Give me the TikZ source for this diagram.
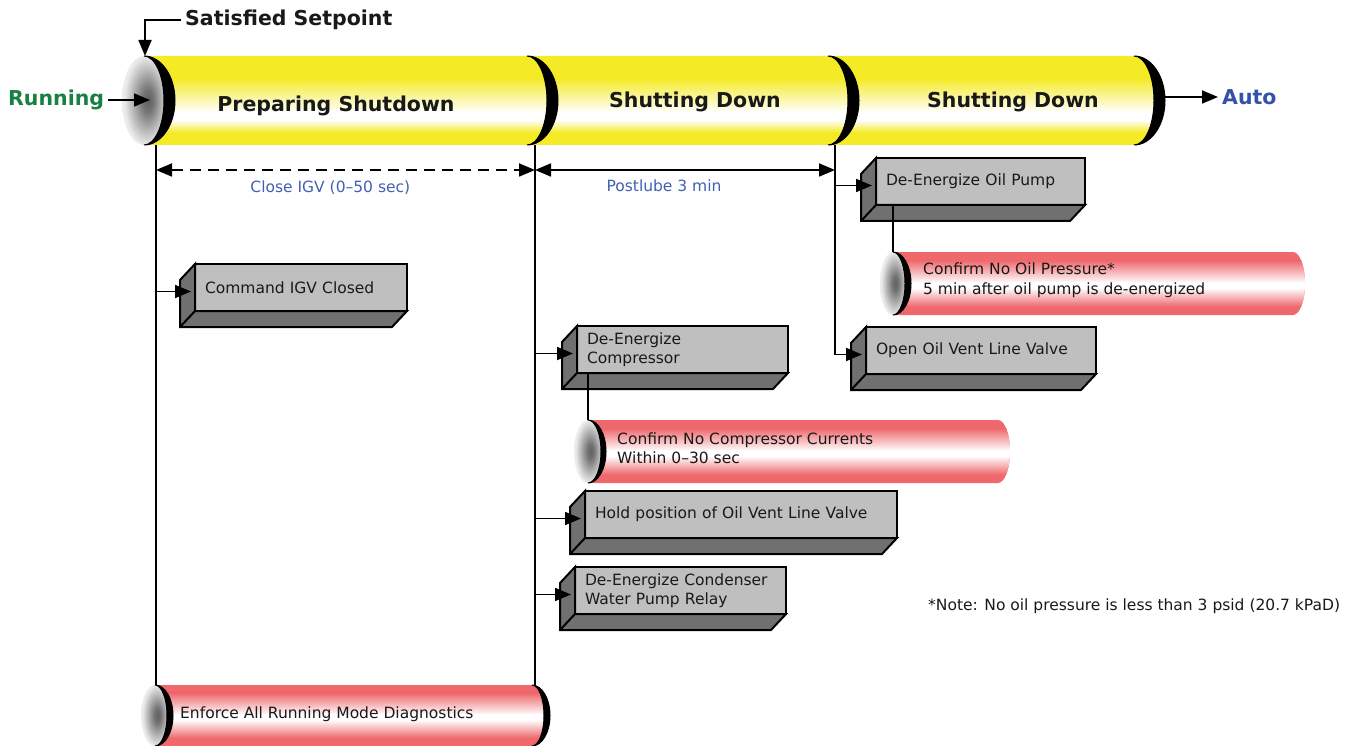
\documentclass[tikz,border=0pt]{standalone}
\usepackage{fontspec}
\setmainfont{DejaVu Sans}
\usetikzlibrary{arrows.meta, calc, positioning}

\definecolor{pipeyellow}{RGB}{244,234,38}
\definecolor{pipered}{RGB}{238,104,108}
\definecolor{facegrey}{RGB}{191,191,191}
\definecolor{sidegrey}{RGB}{112,112,112}
\definecolor{rungreen}{RGB}{24,128,66}
\definecolor{autoblue}{RGB}{52,82,168}
\definecolor{labelblue}{RGB}{64,96,180}

\pgfdeclareradialshading{pipeend}{\pgfpoint{5bp}{0bp}}{color(0bp)=(black!62); color(6bp)=(black!55); color(25bp)=(black!8); color(50bp)=(white)}

\tikzset{
  pipefill/.style n args={5}{fill=#1, path picture={
      \path (path picture bounding box.north west) coordinate (nw) (path picture bounding box.south west) coordinate (sw)
            (path picture bounding box.north east) coordinate (ne) (path picture bounding box.south east) coordinate (se);
      \shade[top color=#1, bottom color=white] ($(nw)!#2!(sw)$) rectangle ($(ne)!#3!(se)$);
      \fill[white] ($(nw)!#3!(sw)+(0,-0.5)$) rectangle ($(ne)!#4!(se)+(0,0.5)$);
      \shade[top color=white, bottom color=#1] ($(nw)!#4!(sw)$) rectangle ($(ne)!#5!(se)$);
    }},
  yellowpipe/.style={pipefill={pipeyellow}{0.25}{0.63}{0.72}{0.86}},
  redpipe/.style={pipefill={pipered}{0.13}{0.49}{0.57}{0.87}},
  stepbox/.style={rectangle, draw=black, line width=2pt, fill=facegrey, anchor=north west, minimum height=47, inner xsep=10pt, inner ysep=2pt, align=left, outer sep=0pt},
  slab/.style={fill=sidegrey, draw=black, line width=2pt, line join=miter},
  joint/.style={fill=black, draw=black, line width=1pt},
  titletext/.style={font=\fontsize{20.5}{24}\selectfont\bfseries, inner sep=4pt},
  pipetext/.style={anchor=west, align=left, inner sep=0pt},
  dimlabel/.style={text=labelblue, inner sep=0pt},
  link/.style={line width=1.8pt},
  arrow/.style={line width=1.8pt, -{Triangle[length=16pt, width=13pt]}},
  dimarrow/.style={line width=1.8pt, {Triangle[length=16pt, width=13pt]}-{Triangle[length=16pt, width=13pt]}}
}

\begin{document}
\begin{tikzpicture}[x=1pt, y=-1pt,
    every node/.style={font=\fontsize{15.5}{19.5}\selectfont, text=black!90}
  ]
  \useasboundingbox (0,0) rectangle (1365,746);

  % --- Main pipe ---
  \path[yellowpipe] (144,56) -- (1134,56) arc[start angle=-90, end angle=90, x radius=30, y radius=44.5] -- (144,145) -- cycle;
  \shade[shading=pipeend] (144,100.5) ellipse[x radius=22, y radius=44.5];
  \foreach \j in {144,527,828,1134}
    \filldraw[joint] (\j,56) arc[start angle=-90, end angle=90, x radius=31, y radius=44.5] arc[start angle=90, end angle=-90, x radius=20, y radius=44.5] -- cycle;

  % --- Red pipes ---
  \path[redpipe] (893,252) -- (1293,252) arc[start angle=-90, end angle=90, x radius=12, y radius=31.5] -- (893,315) -- cycle;
  \shade[shading=pipeend] (893,283.5) ellipse[x radius=13, y radius=31.5];
  \filldraw[joint] (893,252) arc[start angle=-90, end angle=90, x radius=18, y radius=31.5] arc[start angle=90, end angle=-90, x radius=12, y radius=31.5] -- cycle;

  \path[redpipe] (588,420) -- (998,420) arc[start angle=-90, end angle=90, x radius=12, y radius=31.5] -- (588,483) -- cycle;
  \shade[shading=pipeend] (588,451.5) ellipse[x radius=14, y radius=31.5];
  \filldraw[joint] (588,420) arc[start angle=-90, end angle=90, x radius=18, y radius=31.5] arc[start angle=90, end angle=-90, x radius=13, y radius=31.5] -- cycle;

  \path[redpipe] (155,685) -- (532,685) arc[start angle=-90, end angle=90, x radius=18, y radius=30.5] -- (155,746) -- cycle;
  \shade[shading=pipeend] (155,715.5) ellipse[x radius=14, y radius=30.5];
  \foreach \j in {155,532}
    \filldraw[joint] (\j,685) arc[start angle=-90, end angle=90, x radius=18, y radius=30.5] arc[start angle=90, end angle=-90, x radius=12, y radius=30.5] -- cycle;

  % --- Coordinates ---
  \coordinate (pipetop) at (145,56);
  \coordinate (pipeface) at (150,99);
  \coordinate (pipeend) at (1165,97);
  \coordinate (tap0) at (156,145);
  \coordinate (tap1) at (535,145);
  \coordinate (tap2) at (835,145);
  \coordinate (enftop) at (0,685);
  \coordinate (oiltop) at (893,252);
  \coordinate (currtop) at (588,420);

  % --- Boxes ---
  \node (igv) [stepbox, text width=192] at (195,264) {Command IGV Closed};
  \node (comp) [stepbox, text width=191] at (577,326) {De-Energize\\Compressor};
  \node (hold) [stepbox, text width=292] at (585,491) {Hold position of Oil Vent Line Valve};
  \node (cond) [stepbox, text width=191] at (575,567) {De-Energize Condenser\\Water Pump Relay};
  \node (pump) [stepbox, text width=189] at (876,158) {De-Energize Oil Pump};
  \node (vent) [stepbox, text width=210] at (866,327) {Open Oil Vent Line Valve};
  \foreach \b in {igv,comp,hold,cond,pump,vent} {
    \filldraw[slab] (\b.north west) -- ++(-15,16) -- ($(\b.south west)+(-15,16)$) -- ($(\b.south east)+(-15,16)$) -- (\b.south east) -- (\b.south west) -- cycle;
    \draw[slab] (\b.south west) -- ++(-15,16);
  }

  % --- Texts ---
  \node[titletext] (prep) at (336,106) {Preparing Shutdown};
  \node[titletext] (shutA) at (695,102) {Shutting Down};
  \node[titletext] (shutB) at (1013,102) {Shutting Down};
  \node[titletext, anchor=west] (setp) at (181,20) {Satisfied Setpoint};
  \node[titletext, anchor=west, text=rungreen] (running) at (4,100) {Running};
  \node[titletext, anchor=west, text=autoblue] (auto) at (1218,97) {Auto};
  \node[pipetext] (oilp) at (923,280) {Confirm No Oil Pressure*\\5 min after oil pump is de-energized};
  \node[pipetext] (curr) at (617,448) {Confirm No Compressor Currents\\Within 0–30 sec};
  \node[pipetext] (enforce) at (180,714) {Enforce All Running Mode Diagnostics};
  \node[anchor=west, inner sep=0pt] (note) at (928,606) {*Note: No oil pressure is less than 3 psid (20.7 kPaD)};

  % --- Connections ---
  \draw[arrow] (setp.west) -| (pipetop);
  \draw[arrow] (running.east) -- (running.east -| pipeface);
  \draw[arrow] (pipeend) -- (auto.west);

  \draw[link] (tap0) -- (tap0 |- enftop);
  \draw[link] (tap1) -- (tap1 |- enftop);
  \draw[dimarrow, dash pattern=on 11pt off 7pt] (tap0 |- 0,170) -- node[dimlabel, pos=0.46, below=10pt] {Close IGV (0–50 sec)} (tap1 |- 0,170);
  \draw[dimarrow] (tap1 |- 0,170) -- node[dimlabel, pos=0.43, below=9pt] {Postlube 3 min} (tap2 |- 0,170);

  \foreach \b/\t in {igv/tap0, comp/tap1, hold/tap1, cond/tap1, pump/tap2} {
    \coordinate (in) at ($(\b.west)+(-4,4)$);
    \draw[arrow] (\t |- in) -- (in);
  }
  \coordinate (ventin) at ($(vent.west)+(-4,4)$);
  \draw[arrow] (tap2) |- (ventin);

  \draw[link] (comp.south -| currtop) -- (currtop);
  \draw[link] (pump.south -| oiltop) -- (oiltop);
\end{tikzpicture}
\end{document}
